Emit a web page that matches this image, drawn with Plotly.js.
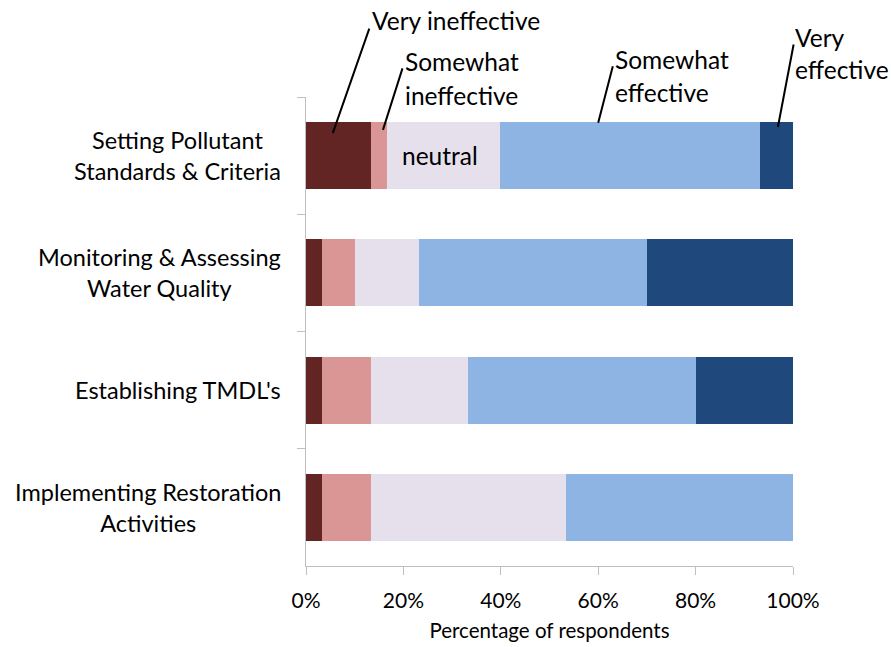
<!DOCTYPE html>
<html>
<head>
<meta charset="utf-8">
<script src="https://cdn.plot.ly/plotly-3.0.1.min.js"></script>
<style>html,body{margin:0;padding:0;background:#fff;}#chart{width:891px;height:647px;}</style>
</head>
<body>
<div id="chart"></div>
<script>
const categories = ["Setting Pollutant<br>Standards & Criteria", "Monitoring & Assessing<br>Water Quality", "Establishing TMDL's", "Implementing Restoration<br>Activities"];
const veryIneffective = [13.3, 3.3, 3.3, 3.3];
const somewhatIneffective = [3.3, 6.7, 10.0, 10.0];
const neutral = [23.3, 13.3, 20.0, 40.0];
const somewhatEffective = [53.3, 46.7, 46.7, 46.7];
const veryEffective = [6.8, 30.0, 20.0, 0.0];
const seriesNames = ["Very ineffective", "Somewhat ineffective", "neutral", "Somewhat effective", "Very effective"];
const seriesColors = ["#632523", "#D99694", "#E6E0EC", "#8EB4E3", "#1F497D"];
const xTickVals = [0, 20, 40, 60, 80, 100];
const xTickText = ["0%", "20%", "40%", "60%", "80%", "100%"];

const FONT = "Lato, 'Open Sans', sans-serif";
const seriesValues = [veryIneffective, somewhatIneffective, neutral, somewhatEffective, veryEffective];
const traces = seriesValues.map((vals, i) => ({
  type: "bar", orientation: "h", name: seriesNames[i],
  x: vals, y: categories,
  marker: {color: seriesColors[i], line: {width: 0}},
  hoverinfo: "x+name"
}));

const txt = (text, x, y, xanchor, xref) => ({text, x, y, xref: xref || "x", yref: "paper", xanchor: xanchor || "left", yanchor: "middle", showarrow: false, font: {family: FONT, size: 24.5, color: "#000"}});
const line = (x, y, ax, ay) => ({text: "", x, y, xref: "x", yref: "paper", ax, ay, showarrow: true, arrowhead: 0, arrowwidth: 2, arrowcolor: "#000"});

// category labels, centred line by line like the original
const catLabels = categories.map(c => ({
  text: c, x: -0.047, y: c, xref: "paper", yref: "y",
  xanchor: "right", yanchor: "middle", align: "center", showarrow: false,
  font: {family: FONT, size: 23.5, color: "#000"}
}));

const annotations = catLabels.concat([
  txt("Very ineffective", 13.2, 1.164),
  txt("Somewhat", 20.0, 1.075),
  txt("ineffective", 20.0, 1.004),
  txt("neutral", 27.6, 0.876, "center"),
  txt("Somewhat", 63.0, 1.079),
  txt("effective", 63.0, 1.009),
  txt("Very", 1.0, 1.126, "left", "paper"),
  txt("effective", 1.0, 1.058, "left", "paper"),
  line(5.5, 0.923, 37, -106),
  line(15.8, 0.930, 20, -63),
  line(60, 0.945, 15, -58),
  line(96.9, 0.936, 16, -84)
]);

const layout = {
  width: 891, height: 647,
  margin: {l: 306, r: 98, t: 97, b: 81},
  barmode: "stack", bargap: 0.43,
  showlegend: false,
  paper_bgcolor: "#fff", plot_bgcolor: "#fff",
  font: {family: FONT, color: "#000"},
  xaxis: {
    range: [0, 100], tickvals: xTickVals, ticktext: xTickText,
    showgrid: false, zeroline: false,
    showline: true, linecolor: "#BFBFBF", linewidth: 1,
    ticks: "outside", ticklen: 8, tickcolor: "#BFBFBF",
    tickfont: {family: FONT, size: 21, color: "#000"},
    ticklabelstandoff: 8,
    title: {text: "Percentage of respondents", font: {family: FONT, size: 20.5, color: "#000"}, standoff: 12},
    fixedrange: true
  },
  yaxis: {
    type: "category", autorange: "reversed",
    showgrid: false, zeroline: false,
    showline: true, linecolor: "#BFBFBF", linewidth: 1,
    ticks: "outside", ticklen: 8, tickcolor: "#BFBFBF", tickson: "boundaries",
    showticklabels: false,
    fixedrange: true
  },
  annotations
};

Plotly.newPlot("chart", traces, layout, {displayModeBar: false, staticPlot: true});
</script>
</body>
</html>
